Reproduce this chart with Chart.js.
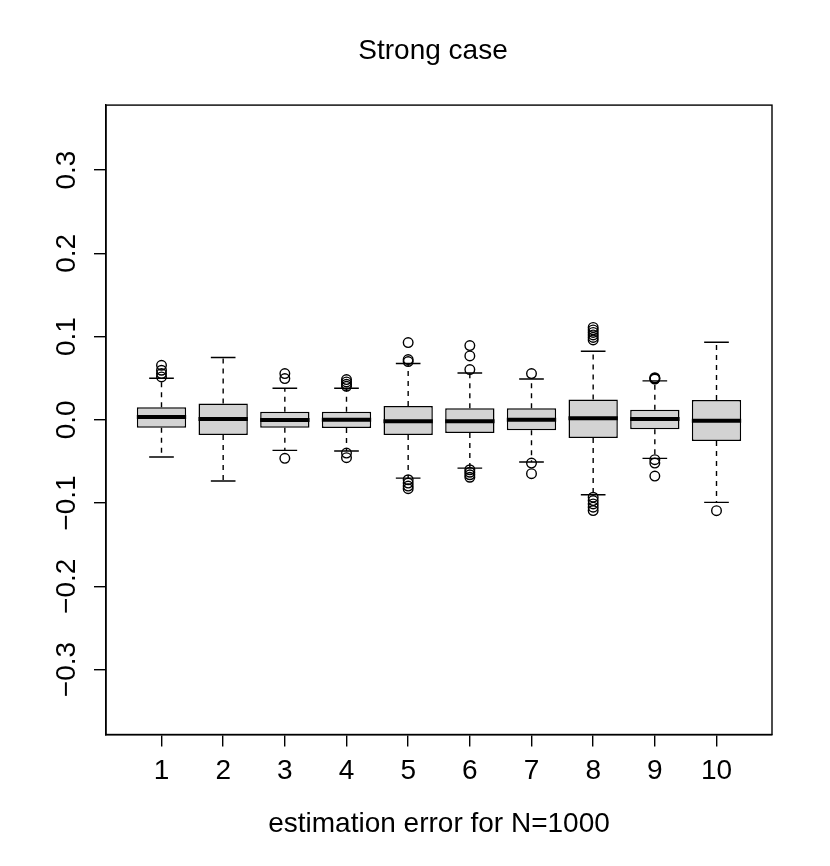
<!DOCTYPE html>
<html lang="en">
  <head>
    <meta charset="utf-8" />
    <title>Strong case</title>
    <style>
      body { margin: 0; background: #fff; }
    </style>
  </head>
  <body>
    <canvas id="myChart" width="830" height="866"></canvas>
    <script src="https://cdn.jsdelivr.net/npm/chart.js"></script>
    <script>
      // data
      const cats = [1, 2, 3, 4, 5, 6, 7, 8, 9, 10];
      const lowWhisker = [-0.0447, -0.0736, -0.0367, -0.0375, -0.070, -0.058, -0.0507, -0.090, -0.0463, -0.0992];
      const q1 = [-0.0094, -0.0183, -0.0094, -0.0098, -0.0183, -0.0159, -0.0126, -0.0219, -0.0114, -0.0255];
      const medians = [0.0034, 0.001, -0.0002, 0.0, -0.0018, -0.0018, 0.0, 0.0018, 0.001, -0.001];
      const q3 = [0.015, 0.0195, 0.0098, 0.0098, 0.0166, 0.0138, 0.0138, 0.0243, 0.0122, 0.0238];
      const highWhisker = [0.0499, 0.0748, 0.0379, 0.0379, 0.0676, 0.0563, 0.049, 0.0824, 0.0467, 0.0932];
      const outliers = [
        [0.0655, 0.0595, 0.0555, 0.0515],
        [],
        [0.0555, 0.0495, -0.0463],
        [0.0483, 0.0455, 0.0427, 0.0403, -0.040, -0.0455],
        [0.0928, 0.0724, 0.070, -0.072, -0.076, -0.0796, -0.0828],
        [0.0892, 0.0767, 0.0604, -0.060, -0.063, -0.066, -0.069],
        [0.0555, -0.052, -0.0647],
        [0.111, 0.108, 0.105, 0.102, 0.099, 0.096, -0.093, -0.097, -0.101, -0.105, -0.109],
        [0.0505, 0.0495, 0.049, -0.0479, -0.052, -0.0676],
        [-0.1092]
      ];
      const xTicks = [1, 2, 3, 4, 5, 6, 7, 8, 9, 10];
      const yTicks = [-0.3, -0.2, -0.1, 0.0, 0.1, 0.2, 0.3];

      const FONT = "'Liberation Sans', Arial, Helvetica, sans-serif";
      Chart.defaults.font.family = FONT;
      Chart.defaults.font.size = 28;
      Chart.defaults.color = '#000';

      const boxes = cats.map((c, i) => ({ x: c, y: [q1[i], q3[i]] }));
      const outPoints = [];
      cats.forEach((c, i) => outliers[i].forEach(v => outPoints.push({ x: c, y: v })));

      // whiskers, caps, medians, frame and rotated y labels
      const boxExtras = {
        id: 'boxExtras',
        beforeDatasetsDraw(chart) {
          const {ctx, scales: {x, y}} = chart;
          ctx.save();
          ctx.strokeStyle = '#000';
          ctx.lineWidth = 1.4;
          cats.forEach((c, i) => {
            const px = x.getPixelForValue(c);
            const capL = x.getPixelForValue(c - 0.2);
            const capR = x.getPixelForValue(c + 0.2);
            // dashed whiskers
            ctx.setLineDash([5, 5]);
            ctx.beginPath();
            ctx.moveTo(px, y.getPixelForValue(q3[i]));
            ctx.lineTo(px, y.getPixelForValue(highWhisker[i]));
            ctx.moveTo(px, y.getPixelForValue(q1[i]));
            ctx.lineTo(px, y.getPixelForValue(lowWhisker[i]));
            ctx.stroke();
            // caps
            ctx.setLineDash([]);
            ctx.beginPath();
            ctx.moveTo(capL, y.getPixelForValue(highWhisker[i]));
            ctx.lineTo(capR, y.getPixelForValue(highWhisker[i]));
            ctx.moveTo(capL, y.getPixelForValue(lowWhisker[i]));
            ctx.lineTo(capR, y.getPixelForValue(lowWhisker[i]));
            ctx.stroke();
          });
          ctx.restore();
        },
        afterDatasetsDraw(chart) {
          const {ctx, scales: {x, y}} = chart;
          const bars = chart.getDatasetMeta(0).data;
          ctx.save();
          ctx.strokeStyle = '#000';
          ctx.lineWidth = 4;
          cats.forEach((c, i) => {
            const half = bars[i].width / 2;
            const px = x.getPixelForValue(c);
            const py = y.getPixelForValue(medians[i]);
            ctx.beginPath();
            ctx.moveTo(px - half, py);
            ctx.lineTo(px + half, py);
            ctx.stroke();
          });
          ctx.restore();
        },
        afterDraw(chart) {
          const {ctx, chartArea: {left, top, width, height}, scales: {y}} = chart;
          ctx.save();
          ctx.strokeStyle = '#000';
          ctx.lineWidth = 1.4;
          ctx.strokeRect(left, top, width, height);
          // y labels read upwards, like R
          ctx.fillStyle = '#000';
          ctx.font = '28px ' + FONT;
          ctx.textAlign = 'center';
          ctx.textBaseline = 'alphabetic';
          yTicks.forEach(v => {
            const label = v.toFixed(1).replace('-', '\u2212');
            ctx.save();
            ctx.translate(left - 31, y.getPixelForValue(v));
            ctx.rotate(-Math.PI / 2);
            ctx.fillText(label, 0, 0);
            ctx.restore();
          });
          ctx.restore();
        }
      };

      const config = {
        type: 'bar',
        data: {
          datasets: [
            {
              data: boxes,
              backgroundColor: '#d3d3d3',
              borderColor: '#000',
              borderWidth: 1.5,
              borderSkipped: false,
              barPercentage: 0.8,
              categoryPercentage: 1.0
            },
            {
              type: 'scatter',
              data: outPoints,
              pointStyle: 'circle',
              pointRadius: 4.8,
              pointBorderWidth: 1.4,
              pointBorderColor: '#000',
              pointBackgroundColor: 'rgba(0,0,0,0)'
            }
          ]
        },
        options: {
          responsive: false,
          animation: false,
          devicePixelRatio: 1,
          layout: { padding: { left: 94, right: 58, top: 0, bottom: 0 } },
          plugins: {
            legend: { display: false },
            tooltip: { enabled: false },
            title: {
              display: true,
              text: 'Strong case',
              font: { size: 28, weight: 'normal' },
              padding: { top: 34.5, bottom: 37 }
            }
          },
          scales: {
            x: {
              type: 'linear',
              min: 0.1,
              max: 10.9,
              offset: false,
              afterBuildTicks: s => { s.ticks = xTicks.map(v => ({ value: v })); },
              ticks: { padding: 7.5, callback: v => String(v) },
              grid: { offset: false, drawOnChartArea: false, drawTicks: true, tickLength: 12, color: '#000', lineWidth: 1.4 },
              border: { display: true, color: '#000', width: 1.4 },
              title: {
                display: true,
                text: 'estimation error for N=1000',
                padding: { top: 12, bottom: 25.3 }
              }
            },
            y: {
              type: 'linear',
              min: -0.378,
              max: 0.378,
              afterBuildTicks: s => { s.ticks = yTicks.map(v => ({ value: v })); },
              ticks: { display: false },
              grid: { drawOnChartArea: false, drawTicks: true, tickLength: 12, color: '#000', lineWidth: 1.4 },
              border: { display: true, color: '#000', width: 1.4 }
            }
          }
        },
        plugins: [boxExtras]
      };

      const myChart = new Chart(document.getElementById('myChart'), config);
    </script>
  </body>
</html>
